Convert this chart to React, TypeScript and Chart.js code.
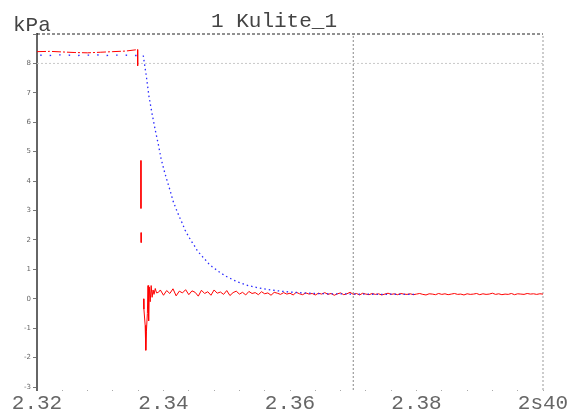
import { useEffect, useRef } from 'react';
import { Chart, registerables } from 'chart.js';

Chart.register(...registerables);

const chartTitle = '1 Kulite_1';
const yUnit = 'kPa';

const xMin = 2.32;
const xMax = 2.40;
const yMin = -3.1;
const yMax = 9;
const cursorTime = 2.37;
const refLevel = 8;

const xTickValues = [
  2.32, 2.324, 2.328, 2.332, 2.336, 2.34, 2.344, 2.348, 2.352, 2.356, 2.36,
  2.364, 2.368, 2.372, 2.376, 2.38, 2.384, 2.388, 2.392, 2.396, 2.40,
];
const xMajorTicks = [2.32, 2.34, 2.36, 2.38, 2.40];
const xMajorLabels = ['2.32', '2.34', '2.36', '2.38', '2s40'];

const yTickValues = [9, 8, 7, 6, 5, 4, 3, 2, 1, 0, -1, -2, -3];
const yTickLabels = ['', '8', '7', '6', '5', '4', '3', '2', '1', '0', '-1', '-2', '-3'];

// Red channel (measured signal), null = gap
const redTime = [
  2.3200, 2.3220, 2.3240, 2.3260, 2.3280, 2.3300, 2.3320, 2.3340, 2.3359, 2.33592, 2.3361,
  2.33643, 2.33644, 2.33645, 2.33646, 2.33647, 2.3365,
  2.33685, 2.33690, 2.33710, 2.33720, 2.33730, 2.33745, 2.33755, 2.33765, 2.33775,
  2.33790, 2.33805, 2.33820, 2.33835, 2.33850, 2.33870, 2.33890,
  2.3392, 2.3395, 2.3400, 2.3405, 2.3410, 2.3415, 2.3420, 2.3425, 2.3430, 2.3435,
  2.3440, 2.3445, 2.3450, 2.3455, 2.3460, 2.3465, 2.3470, 2.3475, 2.3480, 2.3485,
  2.3490, 2.3495, 2.3500, 2.3505, 2.3510, 2.3515, 2.3520, 2.3525, 2.3530, 2.3535,
  2.3540, 2.3545, 2.3550, 2.3555, 2.3560, 2.3565, 2.3570, 2.3575, 2.3580, 2.3585,
  2.3590, 2.3595, 2.3600, 2.3605, 2.3610, 2.3615, 2.3620, 2.3625, 2.3630, 2.3635,
  2.3640, 2.3645, 2.3650, 2.3655, 2.3660, 2.3665, 2.3670, 2.3675, 2.3680, 2.3685,
  2.3690, 2.3695, 2.3700, 2.3705, 2.3710, 2.3715, 2.3720, 2.3725, 2.3730, 2.3735,
  2.3740, 2.3745, 2.3750, 2.3755, 2.3760, 2.3765, 2.3770, 2.3775, 2.3780, 2.3785,
  2.3790, 2.3795, 2.3800, 2.3805, 2.3810, 2.3815, 2.3820, 2.3825, 2.3830, 2.3835,
  2.3840, 2.3845, 2.3850, 2.3855, 2.3860, 2.3865, 2.3870, 2.3875, 2.3880, 2.3885,
  2.3890, 2.3895, 2.3900, 2.3905, 2.3910, 2.3915, 2.3920, 2.3925, 2.3930, 2.3935,
  2.3940, 2.3945, 2.3950, 2.3955, 2.3960, 2.3965, 2.3970, 2.3975, 2.3980, 2.3985,
  2.3990, 2.3995, 2.4000,
];
const redKPa = [
  8.40, 8.41, 8.39, 8.37, 8.36, 8.38, 8.40, 8.42, 8.47, 7.92, null,
  4.70, 3.07, null, 2.25, 1.91, null,
  0.00, -0.35, -0.90, -1.75, -1.10, -0.50, 0.45, -0.75, 0.40,
  -0.10, 0.45, 0.05, 0.30, 0.15, 0.35, 0.20,
  0.22, 0.30, 0.12, 0.28, 0.18, 0.34, 0.10, 0.26, 0.20, 0.31,
  0.14, 0.27, 0.22, 0.09, 0.29, 0.18, 0.24, 0.12, 0.30, 0.19,
  0.23, 0.15, 0.28, 0.11, 0.21, 0.26, 0.16, 0.22, 0.13, 0.25,
  0.18, 0.21, 0.14, 0.24, 0.17, 0.20, 0.12, 0.22, 0.19, 0.15,
  0.21, 0.16, 0.19, 0.13, 0.22, 0.17, 0.14, 0.20, 0.16, 0.18,
  0.13, 0.19, 0.16, 0.21, 0.15, 0.18, 0.12, 0.17, 0.20, 0.14,
  0.17, 0.22, 0.15, 0.18, 0.13, 0.19, 0.16, 0.14, 0.18, 0.15,
  0.17, 0.13, 0.16, 0.19, 0.15, 0.17, 0.14, 0.18, 0.16, 0.15,
  0.17, 0.14, 0.16, 0.18, 0.15, 0.13, 0.17, 0.16, 0.14, 0.18,
  0.15, 0.17, 0.14, 0.16, 0.18, 0.15, 0.16, 0.13, 0.17, 0.15,
  0.16, 0.18, 0.14, 0.17, 0.15, 0.16, 0.19, 0.15, 0.17, 0.14,
  0.16, 0.15, 0.18, 0.14, 0.17, 0.16, 0.15, 0.18, 0.16, 0.17,
  0.15, 0.17, 0.16,
];

// Blue channel (fitted / reference curve)
const blueTime = [
  2.3205, 2.3220, 2.3235, 2.3250, 2.3265, 2.3280, 2.3295, 2.3310, 2.3325, 2.3340, 2.3355, 2.3368,
  2.3373, 2.3377, 2.3382, 2.3387, 2.3392, 2.3396, 2.3401, 2.3406, 2.3411, 2.3415,
  2.3420, 2.3425, 2.3430, 2.3434, 2.3439, 2.3444, 2.3449, 2.3453, 2.3458, 2.3463,
  2.3468, 2.3472, 2.3477, 2.3482, 2.3487, 2.3492, 2.3496, 2.3501, 2.3506, 2.3510,
  2.3518, 2.3526, 2.3534, 2.3542, 2.3550, 2.3558, 2.3574, 2.3589, 2.3605, 2.3621,
  2.3640, 2.3660, 2.3680, 2.3700, 2.3720, 2.3740, 2.3750, 2.3760, 2.3770, 2.3780, 2.3790, 2.3800,
];
const blueKPa = [
  8.28, 8.27, 8.29, 8.28, 8.27, 8.28, 8.29, 8.27, 8.28, 8.28, 8.27, 8.27,
  7.54, 6.88, 6.28, 5.73, 5.23, 4.78, 4.36, 3.99, 3.64, 3.33,
  3.05, 2.79, 2.55, 2.34, 2.14, 1.96, 1.80, 1.65, 1.52, 1.40,
  1.28, 1.18, 1.09, 1.01, 0.93, 0.86, 0.80, 0.74, 0.69, 0.64,
  0.57, 0.51, 0.45, 0.41, 0.37, 0.34, 0.29, 0.25, 0.22, 0.20,
  0.18, 0.17, 0.17, 0.16, 0.16, 0.15, 0.15, 0.16, 0.15, 0.15, 0.15, 0.15,
];

const MONO = '"Liberation Mono", "DejaVu Sans Mono", monospace';
const RED = '#ff0000';
const BLUE = '#2a2aff';

export default function App() {
  const canvasRef = useRef<HTMLCanvasElement | null>(null);

  useEffect(() => {
    if (!canvasRef.current) return;
    const redData = redTime.map((t, i) => ({ x: t, y: redKPa[i] }));
    const blueData = blueTime.map((t, i) => ({ x: t, y: blueKPa[i] }));
    const flatBlueCount = 11;
    const flatRedCount = 8;

    const chart = new Chart(canvasRef.current, {
      type: 'line',
      data: {
        datasets: [
          {
            label: 'blue',
            data: blueData,
            borderColor: BLUE,
            borderWidth: 1.3,
            borderDash: [1.5, 3],
            pointRadius: 0,
            tension: 0,
            order: 0,
            segment: {
              borderColor: () => BLUE,
              borderDash: (ctx: any) => (ctx.p0DataIndex < flatBlueCount ? [1.5, 8] : [1.5, 3]),
            },
          },
          {
            label: 'red',
            data: redData,
            borderColor: RED,
            borderWidth: 1,
            pointRadius: 0,
            tension: 0,
            spanGaps: false,
            order: 1,
            segment: {
              borderColor: () => RED,
              borderDash: (ctx: any) => (ctx.p0DataIndex < flatRedCount ? [9, 2, 2, 2] : []),
            },
          },
          {
            label: 'top',
            data: [{ x: xMin, y: yMax }, { x: xMax, y: yMax }],
            borderColor: '#222',
            borderWidth: 1,
            borderDash: [3, 2],
            pointRadius: 0,
            clip: false,
            order: 2,
          },
          {
            label: 'right',
            data: [{ x: xMax, y: yMin }, { x: xMax, y: yMax }],
            borderColor: '#999',
            borderWidth: 1,
            borderDash: [2, 2],
            pointRadius: 0,
            clip: false,
            order: 2,
          },
          {
            label: 'cursor',
            data: [{ x: cursorTime, y: yMin }, { x: cursorTime, y: yMax }],
            borderColor: '#888',
            borderWidth: 1,
            borderDash: [2, 2],
            pointRadius: 0,
            clip: false,
            order: 2,
          },
          {
            label: 'ref',
            data: [{ x: xMin, y: refLevel }, { x: xMax, y: refLevel }],
            borderColor: '#c8c8c8',
            borderWidth: 1,
            borderDash: [2, 2],
            pointRadius: 0,
            clip: false,
            order: 2,
          },
        ],
      },
      options: {
        animation: false,
        responsive: false,
        maintainAspectRatio: false,
        layout: { padding: { top: 34, right: 38, left: 0, bottom: 0 } },
        plugins: {
          legend: { display: false },
          title: { display: false },
          tooltip: { enabled: false },
        },
        scales: {
          x: {
            type: 'linear',
            min: xMin,
            max: xMax,
            afterBuildTicks: (scale: any) => {
              scale.ticks = xTickValues.map((value) => ({ value }));
            },
            afterFit: (scale: any) => {
              scale.height = 24;
            },
            ticks: {
              autoSkip: false,
              maxRotation: 0,
              padding: 0,
              color: '#666',
              font: { family: MONO, size: 21 },
              callback: (value: any) => {
                const i = xMajorTicks.findIndex((t) => Math.abs(t - Number(value)) < 1e-9);
                return i >= 0 ? xMajorLabels[i] : '';
              },
            },
            grid: {
              drawOnChartArea: false,
              tickLength: 1,
              tickColor: '#aaa',
            },
            border: { display: false },
          },
          y: {
            type: 'linear',
            min: yMin,
            max: yMax,
            afterBuildTicks: (scale: any) => {
              scale.ticks = yTickValues.map((value) => ({ value }));
            },
            afterFit: (scale: any) => {
              scale.width = 37;
            },
            ticks: {
              autoSkip: false,
              padding: 2,
              color: '#666',
              font: { family: 'DejaVu Sans', size: 7 },
              callback: (value: any) => {
                const i = yTickValues.findIndex((t) => Math.abs(t - Number(value)) < 1e-9);
                return i >= 0 ? yTickLabels[i] : '';
              },
            },
            grid: {
              drawOnChartArea: false,
              tickLength: 4,
              tickColor: '#777',
            },
            border: { display: true, color: '#666', width: 2 },
          },
        },
      },
    } as any);
    return () => chart.destroy();
  }, []);

  return (
    <div style={{ position: 'absolute', left: 0, top: 0, width: 581, height: 414, background: '#fff' }}>
      <canvas ref={canvasRef} width={581} height={414} style={{ width: 581, height: 414, display: 'block' }} />
      <div
        style={{
          position: 'absolute',
          left: 13,
          top: 15,
          fontFamily: MONO,
          fontSize: 21,
          lineHeight: '21px',
          color: '#444',
          whiteSpace: 'pre',
        }}
      >
        {yUnit}
      </div>
      <div
        style={{
          position: 'absolute',
          left: 211,
          top: 11,
          fontFamily: MONO,
          fontSize: 21,
          lineHeight: '21px',
          color: '#444',
          whiteSpace: 'pre',
        }}
      >
        {chartTitle}
      </div>
    </div>
  );
}
